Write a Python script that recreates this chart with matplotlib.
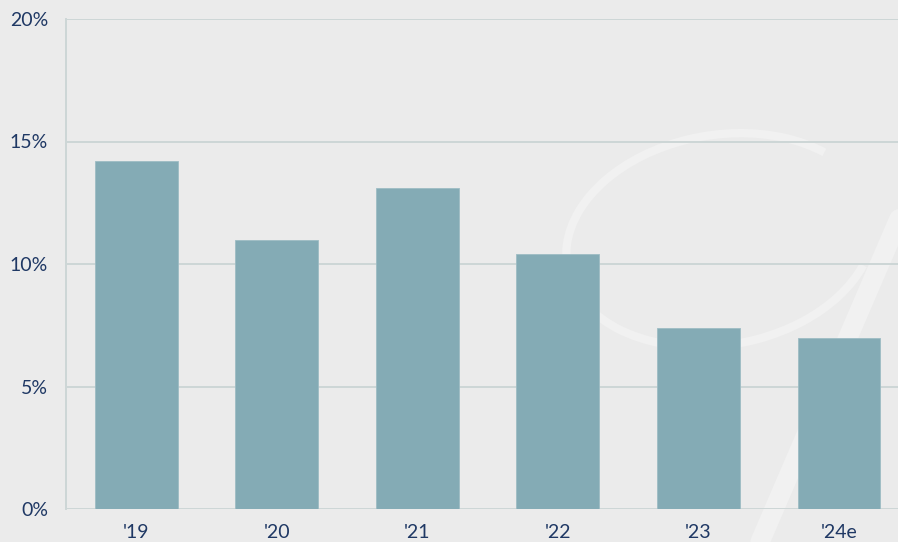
import matplotlib
matplotlib.use("Agg")
import matplotlib.pyplot as plt
from matplotlib.patches import Arc

years = ["'19", "'20", "'21", "'22", "'23", "'24e"]
growth = [14.2, 11.0, 13.1, 10.4, 7.4, 7.0]
y_ticks = [0, 5, 10, 15, 20]
y_labels = ["0%", "5%", "10%", "15%", "20%"]

bar_color = "#84abb5"
grid_color = "#cdd6d6"
text_color = "#1f3864"
bg_color = "#ebebeb"

plt.rcParams['font.family'] = ['Lato', 'DejaVu Sans']

fig = plt.figure(figsize=(8.98, 5.42), dpi=100, facecolor=bg_color)
ax = fig.add_axes([66 / 898, 1 - 509 / 542, 1 - 66 / 898, 490 / 542])
ax.set_facecolor("none")

# faint watermark swirls in the background
wm = fig.add_axes([0, 0, 1, 1], zorder=-1)
wm.set_xlim(0, 898)
wm.set_ylim(542, 0)
wm.axis("off")
wm.add_patch(Arc((720, 240), 310, 210, angle=-10, theta1=20, theta2=330,
                 color="#f1f1f1", lw=6))
wm.plot([760, 920], [542, 170], color="#f1f1f1", lw=14, solid_capstyle="round")

x = range(len(years))
ax.bar(x, growth, width=0.59, color=bar_color, edgecolor="#9dbcc4", linewidth=0.6, zorder=3)

ax.set_xlim(-0.5, 5.42)
ax.set_ylim(0, 20)
ax.set_yticks(y_ticks)
ax.set_yticklabels(y_labels)
ax.set_xticks(list(x))
ax.set_xticklabels(years)

ax.grid(axis="y", color=grid_color, linewidth=1.4, zorder=1)
ax.tick_params(axis="both", length=0, labelsize=14, labelcolor=text_color)
ax.tick_params(axis="y", pad=13)
ax.tick_params(axis="x", pad=11)

for s in ["top", "right", "bottom"]:
    ax.spines[s].set_visible(False)
ax.spines["left"].set_color(grid_color)
ax.spines["left"].set_linewidth(1.4)

fig.savefig("out.png", dpi=100, facecolor=bg_color)
